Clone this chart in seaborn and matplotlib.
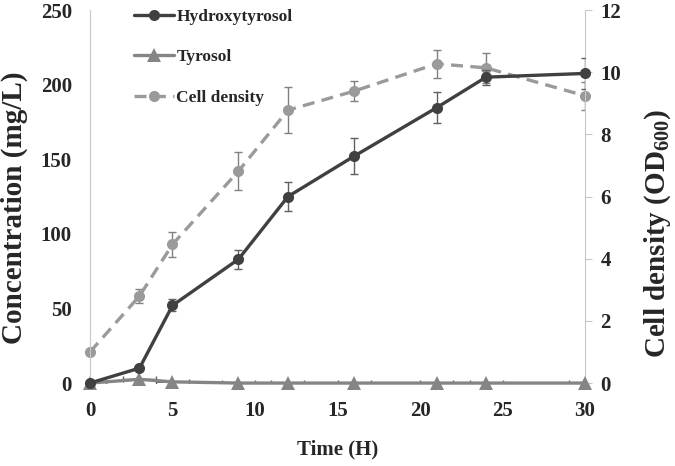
import numpy as np
import pandas as pd
import matplotlib.pyplot as plt
import seaborn as sns

# time points (h)
time = [0, 3, 5, 9, 12, 16, 21, 24, 30]

# concentrations (mg/L)
hydroxytyrosol = [0, 10, 52, 83, 125, 152, 184.5, 205, 207.5]
hydroxytyrosol_err = [0, 1, 4, 6.5, 9.5, 12, 10.5, 5, 10.5]
tyrosol = [0, 2.5, 0.8, 0, 0, 0, 0, 0, 0]
tyrosol_xerr = [1, 1, 1, 1, 1, 1, 1, 1, 1]

# cell density (OD600)
cell_density = [1.0, 2.8, 4.46, 6.82, 8.78, 9.39, 10.27, 10.14, 9.24]
cell_density_err = [0, 0.24, 0.4, 0.6, 0.73, 0.33, 0.45, 0.48, 0.46]

df = pd.DataFrame({
    "Time": time,
    "Hydroxytyrosol": hydroxytyrosol,
    "Tyrosol": tyrosol,
    "Cell density": cell_density,
})

sns.set_style("white")
plt.rcParams["font.family"] = ["Liberation Serif", "DejaVu Serif"]
plt.rcParams["font.weight"] = "bold"
plt.rcParams["mathtext.fontset"] = "custom"
plt.rcParams["mathtext.rm"] = "Liberation Serif:bold"
plt.rcParams["mathtext.bf"] = "Liberation Serif:bold"

c_ht = "#404040"
c_ty = "#858585"
c_cd = "#9a9a9a"
c_spine = "#c8c8c8"

fig = plt.figure(figsize=(6.75, 4.66), dpi=100)
ax = fig.add_axes([0.1333, 0.178, 0.7334, 0.8005])
ax2 = ax.twinx()

# -------------------------
# cell density (right axis)
# -------------------------
ax2.errorbar(time, cell_density, yerr=cell_density_err, fmt="none",
             ecolor="#808080", elinewidth=1, capsize=3, capthick=1, zorder=1)
sns.lineplot(data=df, x="Time", y="Cell density", ax=ax2, color=c_cd,
             linestyle=(0, (3.6, 2.2)), linewidth=2.4, marker="o", markersize=8,
             markeredgewidth=0, label="Cell density", legend=False, zorder=2,
             clip_on=False)

# -------------------------
# concentrations (left axis)
# -------------------------
ax.errorbar(time, hydroxytyrosol, yerr=hydroxytyrosol_err, fmt="none",
            ecolor="#606060", elinewidth=1, capsize=3, capthick=1, zorder=1)
ax.errorbar(time, tyrosol, xerr=tyrosol_xerr, fmt="none",
            ecolor="#606060", elinewidth=1, capsize=2, capthick=1, zorder=1)
sns.lineplot(data=df, x="Time", y="Tyrosol", ax=ax, color=c_ty,
             linewidth=2.4, marker="^", markersize=10, markeredgewidth=0,
             label="Tyrosol", legend=False, zorder=2, clip_on=False)
sns.lineplot(data=df, x="Time", y="Hydroxytyrosol", ax=ax, color=c_ht,
             linewidth=2.4, marker="o", markersize=8, markeredgewidth=0,
             label="Hydroxytyrosol", legend=False, zorder=3, clip_on=False)

# put left axes above the twin so its lines show
ax.set_zorder(ax2.get_zorder() + 1)
ax.patch.set_visible(False)

ax.set_xlim(0, 30)
ax.set_ylim(0, 250)
ax2.set_ylim(0, 12)
ax.set_xticks([0, 5, 10, 15, 20, 25, 30])
ax.set_yticks([0, 50, 100, 150, 200, 250])
ax2.set_yticks([0, 2, 4, 6, 8, 10, 12])

for a in (ax, ax2):
    for s in a.spines.values():
        s.set_visible(False)
ax.spines["left"].set_visible(True)
ax.spines["left"].set_color(c_spine)
ax2.spines["right"].set_visible(True)
ax2.spines["right"].set_color(c_spine)

ax.tick_params(axis="x", length=0, labelsize=15, pad=13)
ax.tick_params(axis="y", length=0, labelsize=15, pad=13)
ax2.tick_params(axis="y", length=5, color=c_spine, direction="out",
                labelsize=15, pad=6)
for lab in ax.get_xticklabels() + ax.get_yticklabels() + ax2.get_yticklabels():
    lab.set_fontweight("bold")

ax.set_xlabel("Time (H)", fontsize=15, fontweight="bold", labelpad=13)
ax.set_ylabel("Concentration (mg/L)", fontsize=21, fontweight="bold")
ax2.set_ylabel("Cell density (OD$_{600}$)", fontsize=21, fontweight="bold")
ax.yaxis.set_label_coords(-0.125, 0.47)
ax2.yaxis.set_label_coords(1.115, 0.40)

h1, l1 = ax.get_legend_handles_labels()
h2, l2 = ax2.get_legend_handles_labels()
order = {"Hydroxytyrosol": 0, "Tyrosol": 1, "Cell density": 2}
pairs = sorted(zip(h1 + h2, l1 + l2), key=lambda p: order[p[1]])
leg = ax.legend([p[0] for p in pairs], [p[1] for p in pairs],
                loc="upper left", bbox_to_anchor=(0.057, 1.045), frameon=False,
                handlelength=2.3, handletextpad=0.15, labelspacing=1.4,
                prop={"family": "Liberation Serif", "weight": "bold", "size": 12.5})

plt.savefig("out.png", dpi=100)
